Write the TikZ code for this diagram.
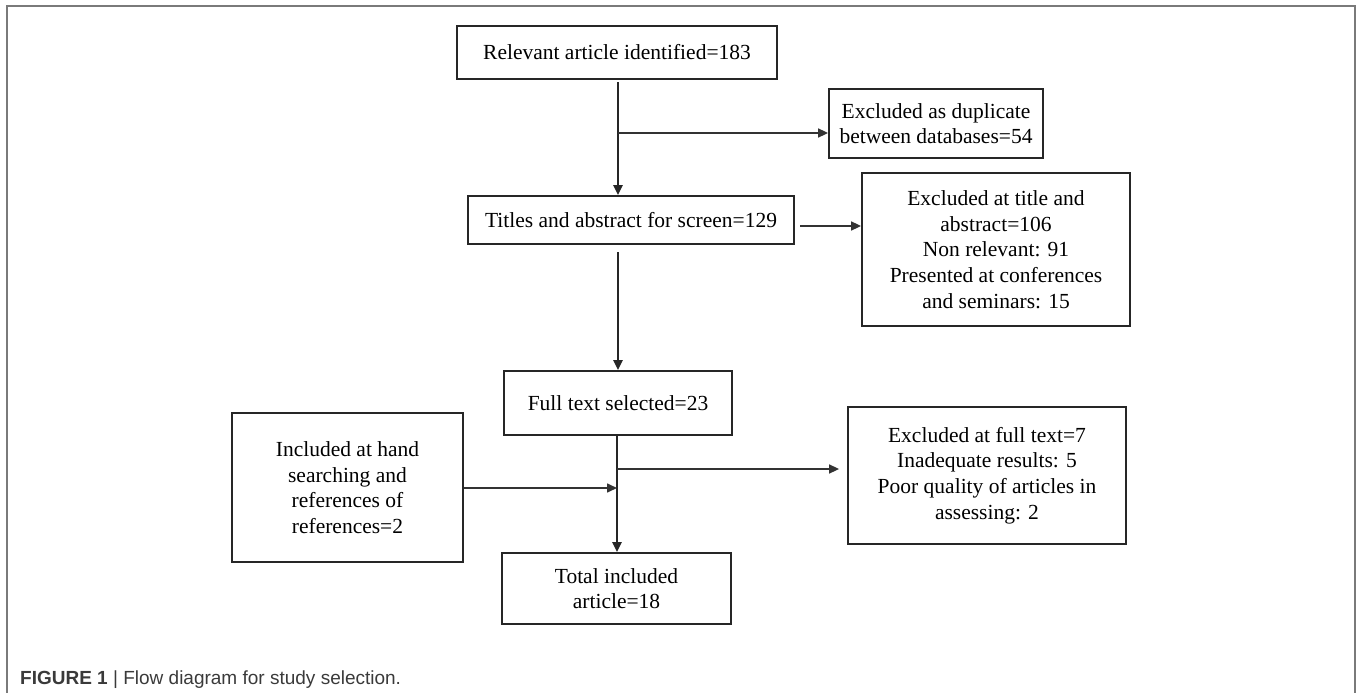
\documentclass[tikz,border=0pt]{standalone}
\usepackage{fontspec}
\setmainfont{Liberation Serif}
\newfontfamily\capfont{Liberation Sans}
\usetikzlibrary{arrows.meta}
\definecolor{framegray}{HTML}{7A7A7A}
\definecolor{capgray}{HTML}{3A3A3A}
\tikzset{
  box/.style={draw=black!85, line width=1.8pt, fill=white, align=center, inner sep=0pt,
    font=\fontsize{21.5}{25.7}\selectfont},
  flow/.style={draw=black!85, line width=2.2pt, -{Triangle[length=10pt,width=9pt]}},
  side/.style={draw=black!80, line width=1.6pt, -{Triangle[length=10pt,width=9pt]}},
}
\begin{document}
\begin{tikzpicture}[x=1pt,y=-1pt]
\useasboundingbox (0,0) rectangle (1357,693);
% frame
\draw[framegray, line width=2pt] (7,693) -- (7,6) -- (1355,6) -- (1355,693);
% boxes
\node[box, minimum width=320pt, minimum height=53pt] (b1) at (617,52.5) {Relevant article identified=183};
\node[box, minimum width=214pt, minimum height=69pt] (dup) at (936,123.5) {Excluded as duplicate\\between databases=54};
\node[box, minimum width=326pt, minimum height=48pt] (b2) at (631,220) {Titles and abstract for screen=129};
\node[box, minimum width=268pt, minimum height=153pt] (ex2) at (996,249.5) {Excluded at title and\\abstract=106\\Non relevant: 91\\Presented at conferences\\and seminars: 15};
\node[box, minimum width=228pt, minimum height=64pt] (b3) at (618,403) {Full text selected=23};
\node[box, minimum width=278pt, minimum height=137pt] (ex3) at (987,475.5) {Excluded at full text=7\\Inadequate results: 5\\Poor quality of articles in\\assessing: 2};
\node[box, minimum width=231pt, minimum height=149pt] (hand) at (347.5,487.5) {Included at hand\\searching and\\references of\\references=2};
\node[box, minimum width=229pt, minimum height=71pt] (b4) at (616.5,588.5) {Total included\\article=18};
% junction points
\coordinate (t1) at (618,82);
\coordinate (j1) at (618,133);
\coordinate (s2) at (800,226);
\coordinate (t2) at (618,252);
\coordinate (j3) at (617,469);
\coordinate (j4) at (617,488);
% connectors
\draw[flow] (t1) -- (t1 |- b2.north);
\draw[side] (j1) -- (j1 -| dup.west);
\draw[side] (s2) -- (s2 -| ex2.west);
\draw[flow] (t2) -- (t2 |- b3.north);
\draw[flow] (b3.south -| j3) -- (j3 |- b4.north);
\draw[side] (j3) -- ([xshift=-8pt]j3 -| ex3.west);
\draw[side] (hand.east |- j4) -- (j4);
% caption
\node[anchor=base west, inner sep=0pt, font=\capfont\fontsize{19}{22}\selectfont, text=capgray] (cap) at (20,684)
  {\textbf{FIGURE 1} | Flow diagram for study selection.};
\end{tikzpicture}
\end{document}
